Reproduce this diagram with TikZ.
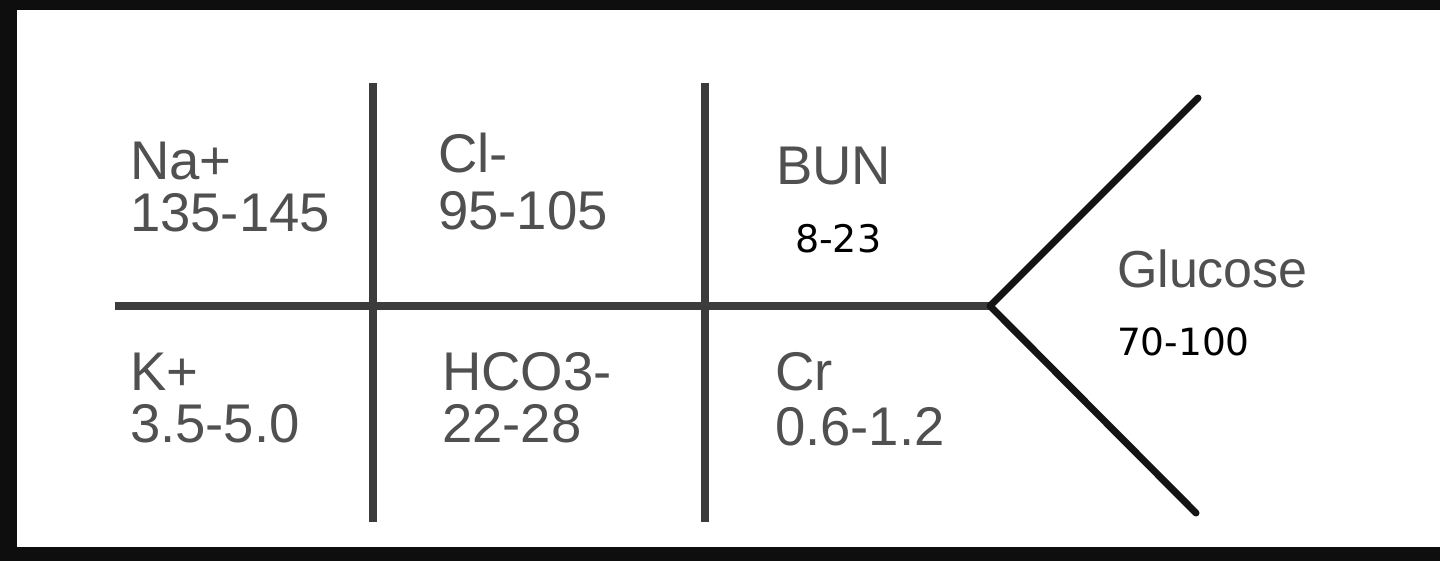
\documentclass[tikz,border=0pt]{standalone}
\usepackage{fontspec}
\setmainfont{Liberation Sans}
\newfontfamily\numfont{DejaVu Sans}
\definecolor{labelgray}{HTML}{505050}
\definecolor{linegray}{HTML}{3C3C3C}
\definecolor{frameblack}{HTML}{0E0E0E}
\begin{document}
\begin{tikzpicture}[x=1pt,y=-1pt,
  lbl/.style={anchor=base west,inner sep=0pt,outer sep=0pt,text=labelgray,font=\fontsize{54.5}{54}\selectfont},
  glu/.style={anchor=base west,inner sep=0pt,outer sep=0pt,text=labelgray,font=\fontsize{52}{52}\selectfont},
  blk/.style={anchor=base west,inner sep=0pt,outer sep=0pt,text=black},
  grid/.style={line width=8pt,draw=linegray},
  fork/.style={line width=7pt,draw=black!92,line cap=round,line join=round}]
\useasboundingbox (0,0) rectangle (1440,561);
\fill[frameblack] (0,0) rectangle (1440,561);
\fill[white] (17,10) rectangle (1440,547);
% coordinates
\coordinate (hl) at (115,306);
\coordinate (hr) at (990,306);
\coordinate (v1t) at (373,83);
\coordinate (v1b) at (373,522);
\coordinate (v2t) at (705,83);
\coordinate (v2b) at (705,522);
\coordinate (ft) at (1198,98);
\coordinate (fb) at (1196,513);
% lines
\draw[grid] (hl) -- (hr);
\draw[grid] (v1t) -- (v1b);
\draw[grid] (v2t) -- (v2b);
\draw[fork] (ft) -- (hr) -- (fb);
% labels
\node[lbl] (na) at (130,180) {Na+};
\node[lbl] (nav) at (130,232) {135-145};
\node[lbl] (k) at (130,390) {K+};
\node[lbl] (kv) at (130,442) {3.5-5.0};
\node[lbl] (cl) at (438,173) {Cl-};
\node[lbl] (clv) at (438,230) {95-105};
\node[lbl] (hco) at (442,390) {HCO3-};
\node[lbl] (hcov) at (442,442) {22-28};
\node[lbl] (bun) at (776,185) {BUN};
\node[blk,font=\numfont\fontsize{38}{38}\selectfont] (bunv) at (795,253) {8-23};
\node[lbl] (cr) at (775,390) {Cr};
\node[lbl] (crv) at (775,445) {0.6-1.2};
\node[glu] (glc) at (1117,288) {Glucose};
\node[blk,font=\numfont\fontsize{37.5}{38}\selectfont] (glcv) at (1117,355) {70-100};
\end{tikzpicture}
\end{document}
